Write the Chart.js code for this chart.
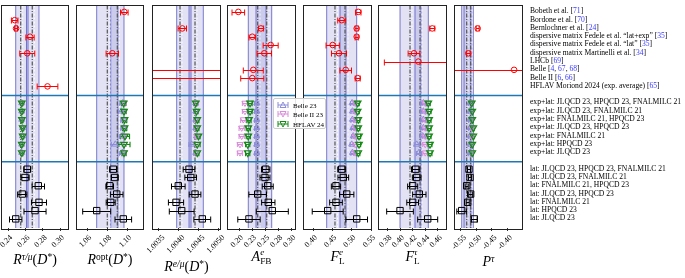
<!DOCTYPE html>
<html>
<head>
<meta charset="utf-8">
<script src="https://cdn.jsdelivr.net/npm/chart.js@4.4.1/dist/chart.umd.min.js"></script>
<style>
  body { margin: 0; background: #fff; }
  #wrap { position: relative; width: 685px; height: 278px; overflow: hidden; font-family: "Liberation Serif", "DejaVu Serif", serif; }
  canvas { position: absolute; top: 0; }
  .row-label { position: absolute; left: 530px; font-size: 7.6px; line-height: 10px; height: 10px; white-space: nowrap; color: #000; }
  .ref { color: #3a3aff; }
  .title { position: absolute; font-size: 14px; white-space: nowrap; transform: translate(-50%, -50%); }
  .title i { font-style: italic; }
  .title sup { font-size: 0.68em; vertical-align: 0.45em; line-height: 0; }
  .ss { display: inline-block; vertical-align: -0.32em; font-size: 0.66em; line-height: 0.95; text-align: left; }
  #legend { position: absolute; left: 273px; top: 98px; width: 53px; height: 31px; background: rgba(255,255,255,0.88);
            border: 1px solid #ccc; border-radius: 2px; box-sizing: border-box; z-index: 5; font-size: 7px; }
  #legend div { position: absolute; left: 3px; height: 9px; line-height: 9px; white-space: nowrap; }
  #legend svg { vertical-align: -1px; margin-right: 4px; }
</style>
</head>
<body>
<div id="wrap"><div id="legend"></div></div>
<script>
// ---- row labels (right hand side) ----
const referenceLabels = [
  'Bobeth et al. [71]',
  'Bordone et al. [70]',
  'Bernlochner et al. [24]',
  'dispersive matrix Fedele et al. “lat+exp” [35]',
  'dispersive matrix Fedele et al. “lat” [35]',
  'dispersive matrix Martinelli et al. [34]',
  'LHCb [69]',
  'Belle [4, 67, 68]',
  'Belle II [6, 66]',
  'HFLAV Moriond 2024 (exp. average) [65]'
]
const expLatLabels = [
  'exp+lat: JLQCD 23, HPQCD 23, FNALMILC 21',
  'exp+lat: JLQCD 23, FNALMILC 21',
  'exp+lat: FNALMILC 21, HPQCD 23',
  'exp+lat: JLQCD 23, HPQCD 23',
  'exp+lat: FNALMILC 21',
  'exp+lat: HPQCD 23',
  'exp+lat: JLQCD 23'
]
const latLabels = [
  'lat: JLQCD 23, HPQCD 23, FNALMILC 21',
  'lat: JLQCD 23, FNALMILC 21',
  'lat: FNALMILC 21, HPQCD 23',
  'lat: JLQCD 23, HPQCD 23',
  'lat: FNALMILC 21',
  'lat: HPQCD 23',
  'lat: JLQCD 23'
]
const expSeries = ['Belle 23', 'Belle II 23', 'HFLAV 24']

// ---- values: [central, error], null = no entry ----
// R(tau/mu)
const rTauMuRef = [null, [0.2474, 0.0038], [0.2490, 0.0017], [0.2652, 0.0048], null, [0.2620, 0.0087], null, null, null, [0.2855, 0.0120]]
const rTauMuBelle = [[0.2556, 0.0012], [0.2556, 0.0012], [0.2556, 0.0012], [0.2565, 0.0012], [0.2565, 0.0012], [0.2556, 0.0012], [0.2556, 0.0012]]
const rTauMuBelle2 = [[0.2556, 0.0012], [0.2556, 0.0012], [0.2556, 0.0012], [0.2565, 0.0012], [0.2565, 0.0012], [0.2556, 0.0012], [0.2556, 0.0012]]
const rTauMuHflav = [[0.2556, 0.0012], [0.2556, 0.0012], [0.2558, 0.0012], [0.2567, 0.0012], [0.2567, 0.0012], [0.2556, 0.0012], [0.2556, 0.0012]]
const rTauMuLat = [[0.2620, 0.0040], [0.2594, 0.0048], [0.2748, 0.0072], [0.2562, 0.0054], [0.2756, 0.0087], [0.2710, 0.0128], [0.2486, 0.0072]]
const rTauMuBands = [[0.2486, 0.2629, 0.2544, 0.2567], [0.2611, 0.2756, 0.2678, 0.2702]]  // lo, hi, central, alt
const rTauMuTicks = [0.24, 0.26, 0.28, 0.30]

// R_opt
const rOptRef = [[1.0970, 0.0038], null, null, null, null, [1.0850, 0.0062], null, null, null, null]
const rOptBelle = [[1.0955, 0.003], [1.0940, 0.003], [1.0965, 0.003], [1.0965, 0.003], [1.0950, 0.003], [1.0880, 0.004], [1.0950, 0.003]]
const rOptBelle2 = [[1.0970, 0.002], [1.0970, 0.002], [1.0970, 0.002], [1.0970, 0.002], [1.0970, 0.002], [1.0970, 0.002], [1.0970, 0.002]]
const rOptHflav = [[1.0963, 0.002], [1.0967, 0.002], [1.0973, 0.002], [1.0973, 0.002], [1.0977, 0.0045], [1.0967, 0.006], [1.0967, 0.002]]
const rOptLat = [[1.0860, 0.0037], [1.0874, 0.0035], [1.0824, 0.0038], [1.0894, 0.0063], [1.0834, 0.0045], [1.0694, 0.0140], [1.0960, 0.0083]]
const rOptBands = [[1.0694, 1.0907, 1.0800, 1.0827], [1.0834, 1.0967, 1.0900, 1.0920]]
const rOptTicks = [1.06, 1.08, 1.10]

// R(e/mu)
const rEMuRef = [null, null, [1.004095, 0.000105], null, null, null, null, [0.990, 0.021], [1.010, 0.020], null]
const rEMuBelle = [[1.00443, 0.00005], [1.00443, 0.00005], [1.00443, 0.00005], [1.00443, 0.00005], [1.00445, 0.00005], [1.00433, 0.00007], [1.00443, 0.00005]]
const rEMuBelle2 = [[1.00445, 0.00004], [1.00445, 0.00004], [1.00445, 0.00004], [1.00445, 0.00004], [1.00445, 0.00004], [1.00445, 0.00004], [1.00445, 0.00004]]
const rEMuHflav = [[1.00443, 0.00004], [1.00445, 0.00004], [1.00447, 0.00004], [1.00447, 0.00004], [1.00450, 0.00004], [1.00447, 0.00007], [1.00447, 0.00004]]
const rEMuLat = [[1.004263, 0.000146], [1.004305, 0.000146], [1.003995, 0.00017], [1.004413, 0.000146], [1.003938, 0.00019], [1.00408, 0.00031], [1.004595, 0.00021]]
const rEMuBands = [[1.003955, 1.004313, 1.004038, 1.004088], [1.004263, 1.004620, 1.004413, 1.004463]]
const rEMuTicks = [1.0035, 1.0040, 1.0045, 1.0050]

// A_FB^e
const afbRef = [[0.1987, 0.012], null, [0.2419, 0.005], [0.2253, 0.0063], [0.2603, 0.0143], [0.2482, 0.0137], null, [0.2272, 0.019], [0.2253, 0.022], null]
const afbBelle = [[0.2337, 0.004], [0.2337, 0.004], [0.2337, 0.004], [0.2337, 0.004], [0.2337, 0.004], [0.2337, 0.004], [0.2337, 0.004]]
const afbBelle2 = [[0.2114, 0.005], [0.2114, 0.005], [0.2082, 0.005], [0.2051, 0.005], [0.2051, 0.005], [0.2019, 0.005], [0.2019, 0.005]]
const afbHflav = [[0.2210, 0.004], [0.2210, 0.004], [0.2190, 0.004], [0.2177, 0.004], [0.2177, 0.004], [0.2166, 0.004], [0.2166, 0.004]]
const afbLat = [[0.2509, 0.008], [0.2495, 0.0095], [0.2547, 0.0105], [0.2356, 0.0168], [0.2558, 0.0127], [0.2634, 0.0305], [0.2190, 0.0213]]
const afbBands = [[0.2177, 0.2514, 0.2356, 0.2400], [0.2324, 0.2623, 0.2528, 0.2571]]
const afbTicks = [0.200, 0.225, 0.250, 0.275, 0.300]

// F_L^e
const flERef = [[0.517, 0.007], [0.4742, 0.0103], [0.5129, 0.004], [0.5129, 0.004], [0.4509, 0.0172], [0.4672, 0.0194], null, [0.4845, 0.015], [0.5155, 0.0065], null]
const flEBelle = [[0.501, 0.004], [0.502, 0.004], [0.502, 0.004], [0.503, 0.004], [0.504, 0.004], [0.500, 0.004], [0.502, 0.004]]
const flEBelle2 = [[0.509, 0.004], [0.509, 0.004], [0.509, 0.004], [0.509, 0.004], [0.509, 0.004], [0.509, 0.004], [0.509, 0.004]]
const flEHflav = [[0.5155, 0.004], [0.5155, 0.004], [0.517, 0.004], [0.517, 0.004], [0.519, 0.004], [0.519, 0.004], [0.517, 0.004]]
const flELat = [[0.4742, 0.0103], [0.4783, 0.0138], [0.4594, 0.012], [0.4871, 0.0185], [0.4594, 0.0163], [0.438, 0.040], [0.5129, 0.028]]
const flEBands = [[0.4354, 0.4853, 0.4568, 0.4633], [0.4698, 0.5129, 0.4827, 0.4904]]
const flETicks = [0.40, 0.45, 0.50, 0.55]

// F_L^tau
const flTauRef = [null, null, [0.4512, 0.004], null, null, [0.4221, 0.0093], [0.429, 0.054], null, null, null]
const flTauBelle = [[0.437, 0.004], [0.437, 0.004], [0.437, 0.004], [0.437, 0.004], [0.436, 0.004], [0.4264, 0.004], [0.430, 0.004]]
const flTauBelle2 = [[0.440, 0.004], [0.440, 0.004], [0.440, 0.004], [0.440, 0.004], [0.440, 0.004], [0.440, 0.004], [0.440, 0.004]]
const flTauHflav = [[0.4449, 0.003], [0.4462, 0.003], [0.4462, 0.003], [0.4462, 0.003], [0.4462, 0.003], [0.4476, 0.003], [0.4476, 0.003]]
const flTauLat = [[0.4248, 0.0066], [0.4264, 0.0069], [0.4200, 0.008], [0.4306, 0.0106], [0.4200, 0.0093], [0.3999, 0.0212], [0.4439, 0.0159]]
const flTauBands = [[0.3999, 0.4333, 0.4158, 0.4189], [0.4237, 0.4449, 0.4317, 0.4348]]
const flTauTicks = [0.38, 0.40, 0.42, 0.44, 0.46]

// P^tau
const pTauRef = [null, null, [-0.4956, 0.005], null, null, [-0.5262, 0.006], null, [-0.377, 0.51], null, null]
const pTauBelle = [[-0.521, 0.004], [-0.521, 0.004], [-0.521, 0.004], [-0.521, 0.004], [-0.521, 0.004], [-0.521, 0.004], [-0.521, 0.004]]
const pTauBelle2 = [[-0.514, 0.003], [-0.514, 0.003], [-0.514, 0.003], [-0.514, 0.003], [-0.514, 0.003], [-0.514, 0.003], [-0.514, 0.003]]
const pTauHflav = [[-0.5150, 0.003], [-0.5132, 0.003], [-0.5132, 0.003], [-0.5098, 0.003], [-0.5098, 0.003], [-0.5132, 0.003], [-0.5132, 0.003]]
const pTauLat = [[-0.5239, 0.005], [-0.5206, 0.005], [-0.5314, 0.005], [-0.5184, 0.0065], [-0.5282, 0.005], [-0.5477, 0.016], [-0.5067, 0.0095]]
const pTauBands = [[-0.5477, -0.5174, -0.5314, -0.5272], [-0.5402, -0.5099, -0.5184, -0.5141]]
const pTauTicks = [-0.55, -0.50, -0.45, -0.40]

// ---- panel layout ----
const panels = [
  { ref: rTauMuRef, belle: rTauMuBelle, belle2: rTauMuBelle2, hflav: rTauMuHflav, lat: rTauMuLat, bands: rTauMuBands, ticks: rTauMuTicks, dec: 2,
    min: 0.23153, max: 0.31042, left: 1, width: 68, off: 3, titleY: 260, title: '<i>R</i><sup><i>τ/μ</i></sup>(<i>D</i><sup>*</sup>)' },
  { ref: rOptRef, belle: rOptBelle, belle2: rOptBelle2, hflav: rOptHflav, lat: rOptLat, bands: rOptBands, ticks: rOptTicks, dec: 2,
    min: 1.0487, max: 1.1167, left: 76, width: 68, off: 3, titleY: 260, title: '<i>R</i><sup>opt</sup>(<i>D</i><sup>*</sup>)' },
  { ref: rEMuRef, belle: rEMuBelle, belle2: rEMuBelle2, hflav: rEMuHflav, lat: rEMuLat, bands: rEMuBands, ticks: rEMuTicks, dec: 4,
    min: 1.0033375, max: 1.0050625, left: 152, width: 69, off: 5, titleY: 267, title: '<i>R</i><sup><i>e/μ</i></sup>(<i>D</i><sup>*</sup>)' },
  { ref: afbRef, belle: afbBelle, belle2: afbBelle2, hflav: afbHflav, lat: afbLat, bands: afbBands, ticks: afbTicks, dec: 2,
    min: 0.17714, max: 0.30857, left: 227, width: 69, off: 3, titleY: 257, title: '<i>A</i><span class="ss"><i>e</i><br>FB</span>' },
  { ref: flERef, belle: flEBelle, belle2: flEBelle2, hflav: flEHflav, lat: flELat, bands: flEBands, ticks: flETicks, dec: 2,
    min: 0.37416, max: 0.55245, left: 303, width: 69, off: 3, titleY: 257, title: '<i>F</i><span class="ss"><i>e</i><br>L</span>' },
  { ref: flTauRef, belle: flTauBelle, belle2: flTauBelle2, hflav: flTauHflav, lat: flTauLat, bands: flTauBands, ticks: flTauTicks, dec: 2,
    min: 0.36490, max: 0.47459, left: 378, width: 69, off: 3, titleY: 257, title: '<i>F</i><span class="ss"><i>τ</i><br>L</span>' },
  { ref: pTauRef, belle: pTauBelle, belle2: pTauBelle2, hflav: pTauHflav, lat: pTauLat, bands: pTauBands, ticks: pTauTicks, dec: 2,
    min: -0.57282, max: -0.34785, left: 454, width: 69, off: 4, titleY: 262, title: '<i>P</i><sup><i>τ</i></sup>' }
]

const REF_ROW0 = 0, EXP_ROW0 = 11, LAT_ROW0 = 19
const separators = [10.1, 18.1]
const PAD = 16

const colors = {
  ref: '#ff0000', lat: '#000000', hflav: '#138a13', belle: '#8c8cd9', belle2: '#d98cd9',
  bandFill: 'rgba(110,110,200,0.20)', bandEdge: 'rgba(80,80,190,0.75)', sep: '#1f77b4'
}

const toPoints = (arr, row0) => arr
  .map((d, i) => d ? { x: d[0], y: row0 + i, err: d[1] } : null)
  .filter(Boolean)

const vline = (ctx, x, a) => { ctx.beginPath(); ctx.moveTo(x, a.top); ctx.lineTo(x, a.bottom); ctx.stroke() }

const panelDecor = {
  id: 'panelDecor',
  beforeDatasetsDraw(chart, args, opts) {
    const { ctx, chartArea: a, scales: { x, y } } = chart
    ctx.save()
    ctx.beginPath(); ctx.rect(a.left, a.top, a.width, a.height); ctx.clip()
    // bands
    for (const [lo, hi] of opts.bands) {
      const x0 = x.getPixelForValue(lo), x1 = x.getPixelForValue(hi)
      ctx.fillStyle = colors.bandFill
      ctx.fillRect(x0, a.top, x1 - x0, a.height)
      ctx.strokeStyle = colors.bandEdge; ctx.lineWidth = 1; ctx.setLineDash([])
      vline(ctx, x0, a); vline(ctx, x1, a)
    }
    for (const [, , mid, alt] of opts.bands) {
      ctx.strokeStyle = 'rgba(255,255,255,0.9)'; ctx.lineWidth = 1; ctx.setLineDash([2, 2])
      vline(ctx, x.getPixelForValue(alt), a)
      ctx.strokeStyle = '#555'; ctx.lineWidth = 1.2; ctx.setLineDash([4, 1.5, 1, 1.5])
      vline(ctx, x.getPixelForValue(mid), a)
    }
    ctx.setLineDash([])
    // separators between groups
    ctx.strokeStyle = colors.sep; ctx.lineWidth = 1.5
    for (const r of opts.separators) {
      const yy = y.getPixelForValue(r)
      ctx.beginPath(); ctx.moveTo(a.left, yy); ctx.lineTo(a.right, yy); ctx.stroke()
    }
    // error bars, drawn back to front like the markers
    const order = chart.data.datasets.map((ds, i) => i).sort((i, j) => chart.data.datasets[j].order - chart.data.datasets[i].order)
    for (const i of order) {
      const ds = chart.data.datasets[i]
      ctx.strokeStyle = ds.borderColor; ctx.lineWidth = ds.pointBorderWidth
      const cap = ds.cap || 2.5
      for (const p of ds.data) {
        const xa = x.getPixelForValue(p.x - p.err), xb = x.getPixelForValue(p.x + p.err)
        const yy = Math.round(y.getPixelForValue(p.y)) + 0.5
        ctx.beginPath()
        ctx.moveTo(xa, yy); ctx.lineTo(xb, yy)
        ctx.moveTo(xa, yy - cap); ctx.lineTo(xa, yy + cap)
        ctx.moveTo(xb, yy - cap); ctx.lineTo(xb, yy + cap)
        ctx.stroke()
      }
    }
    ctx.restore()
  },
  afterDraw(chart) {
    const { ctx, chartArea: a } = chart
    ctx.save()
    ctx.strokeStyle = '#222'; ctx.lineWidth = 1
    ctx.strokeRect(Math.round(a.left) + 0.5, Math.round(a.top) - 0.5, Math.round(a.width) - 1, Math.round(a.height) + 1)
    ctx.restore()
  }
}

const wrap = document.getElementById('wrap')
const charts = []

panels.forEach(p => {
  const cv = document.createElement('canvas')
  cv.width = p.width + 2 * PAD
  cv.height = 278
  cv.style.left = (p.left - PAD) + 'px'
  wrap.appendChild(cv)

  const marker = (label, data, color, style, radius, order, rotation = 0, cap = 2.5, bw = 1) => ({
    label, data, order, borderColor: color, backgroundColor: 'rgba(0,0,0,0)', pointStyle: style,
    pointRadius: radius, pointBorderWidth: bw, pointRotation: rotation, cap
  })

  // lower order is drawn on top
  const datasets = [
    marker('reference', toPoints(p.ref, REF_ROW0), colors.ref, 'circle', 2.8, 0, 0, 3),
    marker(expSeries[0], toPoints(p.belle, EXP_ROW0), colors.belle, 'triangle', 3.5, 3, 0),
    marker(expSeries[1], toPoints(p.belle2, EXP_ROW0), colors.belle2, 'triangle', 3.5, 2, 180),
    marker(expSeries[2], toPoints(p.hflav, EXP_ROW0), colors.hflav, 'triangle', 3.8, 1, 180, 2.8, 1.2),
    marker('lat', toPoints(p.lat, LAT_ROW0), colors.lat, 'rect', 4.5, 0, 0, 3)
  ]

  const chart = new Chart(cv, {
    type: 'scatter',
    data: { datasets },
    options: {
      responsive: false,
      animation: false,
      events: [],
      layout: { padding: { left: PAD, right: PAD, top: 1, bottom: 0 } },
      plugins: {
        legend: { display: false },
        tooltip: { enabled: false },
        panelDecor: { bands: p.bands, separators }
      },
      scales: {
        x: {
          type: 'linear', min: p.min, max: p.max,
          afterBuildTicks: s => { s.ticks = p.ticks.map(v => ({ value: v })) },
          afterFit: s => { s.height = 50; s.paddingLeft = 0; s.paddingRight = 0 },
          grid: { display: true, drawOnChartArea: false, drawTicks: true, tickLength: 3, color: '#000', lineWidth: 0.8 },
          border: { display: false },
          ticks: {
            minRotation: 45, maxRotation: 45, autoSkip: false, padding: 2, labelOffset: p.off,
            color: '#000', font: { family: 'Liberation Serif', size: 8 },
            callback: v => v.toFixed(p.dec)
          }
        },
        y: { type: 'linear', min: -0.77, max: 26.1, reverse: true, display: false }
      }
    },
    plugins: [panelDecor]
  })
  charts.push(chart)

  const area = chart.chartArea
  const t = document.createElement('div')
  t.className = 'title'
  t.innerHTML = p.title
  t.style.left = (p.left - PAD + (area.left + area.right) / 2) + 'px'
  t.style.top = p.titleY + 'px'
  wrap.appendChild(t)
})

// right hand labels, placed on the rows of the first panel's y scale
const yScale = charts[0].scales.y
const addRowLabel = (text, row) => {
  const d = document.createElement('div')
  d.className = 'row-label'
  d.innerHTML = text.replace(/\[[^\]]*\]/, m => m.replace(/\d+/g, n => `<span class="ref">${n}</span>`))
  d.style.top = (yScale.getPixelForValue(row) - 5.5) + 'px'
  wrap.appendChild(d)
}
referenceLabels.forEach((s, i) => addRowLabel(s, REF_ROW0 + i))
expLatLabels.forEach((s, i) => addRowLabel(s, EXP_ROW0 + i))
latLabels.forEach((s, i) => addRowLabel(s, LAT_ROW0 + i))

// legend box for the experimental inputs
const legendIcons = [
  [colors.belle, '6,1 9,6.5 3,6.5'],
  [colors.belle2, '3,1.5 9,1.5 6,7'],
  [colors.hflav, '3,1.5 9,1.5 6,7']
]
const legend = document.getElementById('legend')
expSeries.forEach((name, i) => {
  const [c, pts] = legendIcons[i]
  const d = document.createElement('div')
  d.style.top = (1.5 + i * 9.5) + 'px'
  d.innerHTML = `<svg width="12" height="8"><g stroke="${c}" fill="none" stroke-width="1">` +
    `<line x1="1" y1="4" x2="11" y2="4"/><line x1="1" y1="1" x2="1" y2="7"/><line x1="11" y1="1" x2="11" y2="7"/>` +
    `<polygon points="${pts}"/></g></svg>${name}`
  legend.appendChild(d)
})
</script>
</body>
</html>
